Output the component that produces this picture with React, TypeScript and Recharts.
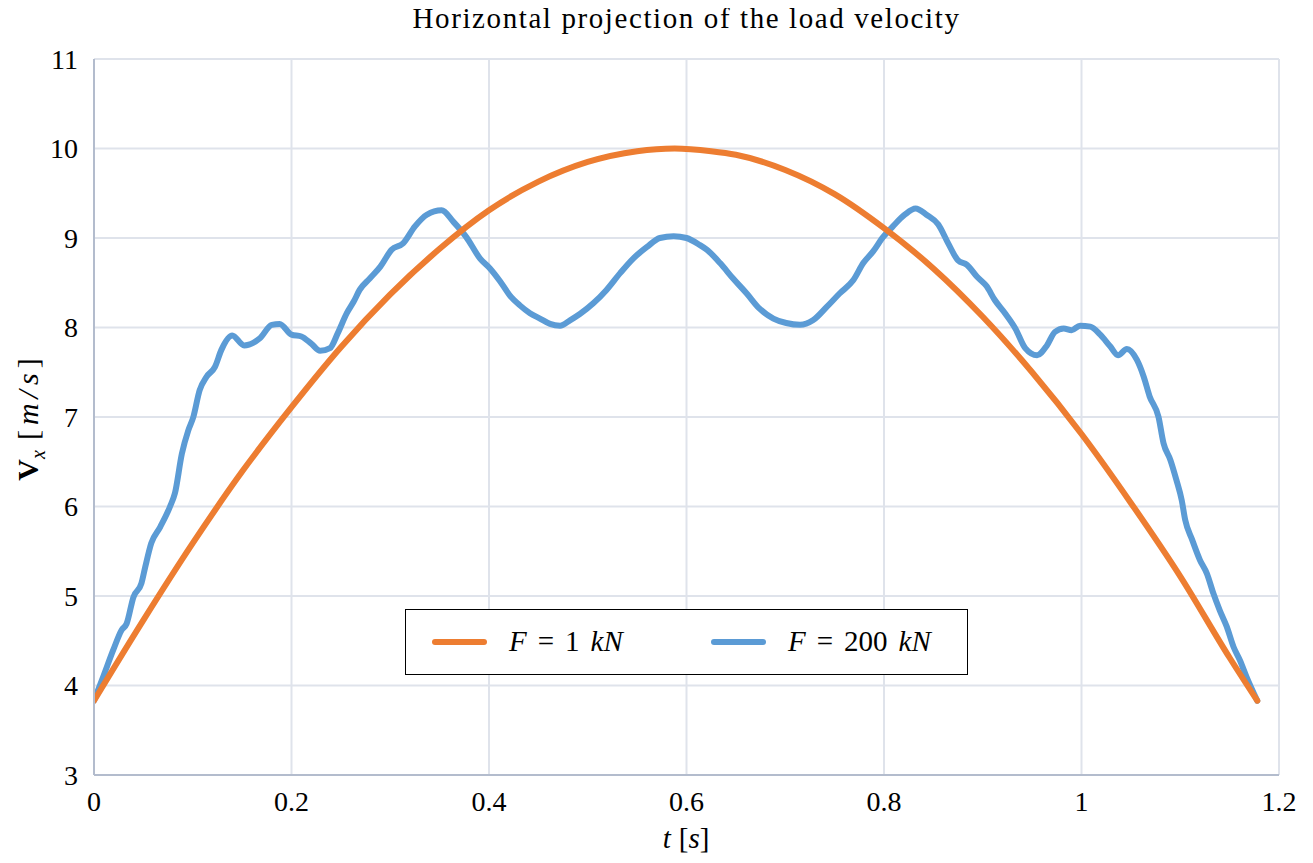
import type { ReactNode } from 'react';
import { CartesianGrid, Legend, Line, LineChart, XAxis, YAxis } from 'recharts';

// F = 1 kN (smooth)
const orangeT = [
  0, 0.05, 0.1, 0.15, 0.2, 0.25, 0.3, 0.35, 0.4, 0.45, 0.5, 0.55, 0.588, 0.625, 0.65, 0.7, 0.75,
  0.8, 0.85, 0.9, 0.95, 1.0, 1.05, 1.1, 1.15, 1.178,
];
const orangeV = [
  3.83, 4.73, 5.59, 6.39, 7.11, 7.78, 8.37, 8.88, 9.31, 9.63, 9.85, 9.97, 10.0, 9.97, 9.93, 9.76,
  9.49, 9.11, 8.66, 8.12, 7.5, 6.81, 6.04, 5.22, 4.31, 3.83,
];

// F = 200 kN (oscillating)
const blueT = [
  0, 0.0094, 0.0196, 0.028, 0.033, 0.04, 0.048, 0.052, 0.058, 0.067, 0.077, 0.082, 0.089, 0.0955,
  0.1006, 0.107, 0.114, 0.1225, 0.129, 0.14, 0.152, 0.168, 0.18, 0.188, 0.2, 0.21, 0.22, 0.229,
  0.239, 0.247, 0.256, 0.263, 0.269, 0.2795, 0.29, 0.3015, 0.313, 0.325, 0.337, 0.352, 0.364,
  0.377, 0.391, 0.401, 0.411, 0.421, 0.431, 0.4415, 0.4516, 0.4618, 0.472, 0.482, 0.492, 0.5056,
  0.519, 0.533, 0.546, 0.56, 0.573, 0.587, 0.6, 0.6137, 0.6205, 0.634, 0.647, 0.661, 0.674, 0.688,
  0.701, 0.715, 0.728, 0.742, 0.755, 0.769, 0.779, 0.789, 0.799, 0.809, 0.821, 0.832, 0.843, 0.855,
  0.865, 0.875, 0.884, 0.894, 0.904, 0.912, 0.9225, 0.933, 0.943, 0.955, 0.965, 0.973, 0.982, 0.99,
  0.9985, 1.009, 1.019, 1.029, 1.037, 1.046, 1.056, 1.063, 1.069, 1.078, 1.083, 1.09, 1.096,
  1.1015, 1.105, 1.112, 1.12, 1.127, 1.1335, 1.14, 1.147, 1.154, 1.1605, 1.167, 1.178,
];
const blueV = [
  3.83, 4.1, 4.4, 4.62, 4.69, 4.99, 5.14, 5.33, 5.59, 5.77, 6.0, 6.15, 6.59, 6.85, 7.0, 7.3, 7.45,
  7.56, 7.75, 7.91, 7.8, 7.88, 8.03, 8.04, 7.92, 7.9, 7.82, 7.74, 7.77, 7.94, 8.16, 8.29, 8.42,
  8.55, 8.68, 8.87, 8.94, 9.13, 9.26, 9.31, 9.18, 9.01, 8.77, 8.66, 8.52, 8.36, 8.25, 8.16, 8.1,
  8.04, 8.02, 8.08, 8.15, 8.27, 8.42, 8.61, 8.77, 8.9, 9.0, 9.02, 9.0, 8.92, 8.87, 8.72, 8.55,
  8.38, 8.21, 8.1, 8.05, 8.03, 8.08, 8.23, 8.38, 8.53, 8.72, 8.85, 9.01, 9.13, 9.26, 9.33, 9.26,
  9.15, 8.94, 8.75, 8.7, 8.57, 8.46, 8.31, 8.16, 7.99, 7.77, 7.69, 7.8, 7.95, 7.99, 7.97, 8.02,
  8.01, 7.92, 7.79, 7.69, 7.76, 7.64, 7.45, 7.23, 7.0, 6.71, 6.52, 6.3, 6.07, 5.85, 5.63, 5.4,
  5.25, 5.03, 4.84, 4.66, 4.43, 4.28, 4.1, 3.83,
];

const xTicks = [0, 0.2, 0.4, 0.6, 0.8, 1, 1.2];
const yTicks = [3, 4, 5, 6, 7, 8, 9, 10, 11];

const seriesNames = ['F = 1 kN', 'F = 200 kN'];

const orangeData = orangeT.map((t, i) => ({ t, v: orangeV[i] }));
const blueData = blueT.map((t, i) => ({ t, v: blueV[i] }));

const FONT = '"Liberation Serif", "DejaVu Serif", serif';
const ORANGE = '#ed7d31';
const BLUE = '#5b9bd5';
const W = 1297;
const H = 847;

// "F = 1 kN" -> italic variables, upright numbers and "="
function MathLabel({ text }: { text: string }): ReactNode {
  const parts = text.split(' ');
  return (
    <span style={{ whiteSpace: 'nowrap' }}>
      {parts.map((p, i) => (
        <span key={i} style={{ marginRight: i < parts.length - 1 ? 11 : 0 }}>
          {/[A-Za-z]/.test(p) ? <i>{p}</i> : p}
        </span>
      ))}
    </span>
  );
}

interface LegendEntry {
  value: string;
  color: string;
}

const legendItemLeft = [26, 305];

function LegendBox({ payload }: { payload?: readonly LegendEntry[] }): ReactNode {
  if (!payload) return null;
  const items = seriesNames
    .map((n) => payload.find((p) => p.value === n))
    .filter((p): p is LegendEntry => Boolean(p));
  return (
    <div
      style={{
        position: 'relative',
        boxSizing: 'border-box',
        width: 563,
        height: 66,
        border: '1.5px solid #000',
        background: '#fff',
        fontFamily: FONT,
        fontSize: 29,
        color: '#000',
      }}
    >
      {items.map((e, i) => (
        <div
          key={e.value}
          style={{
            position: 'absolute',
            left: legendItemLeft[i],
            top: 0,
            height: 63,
            display: 'flex',
            alignItems: 'center',
          }}
        >
          <span
            style={{
              display: 'inline-block',
              width: 55,
              height: 6,
              borderRadius: 3,
              background: e.color,
              marginRight: 22,
            }}
          />
          <MathLabel text={e.value} />
        </div>
      ))}
    </div>
  );
}

export default function App(): ReactNode {
  return (
    <div style={{ position: 'relative', width: W, height: H, fontFamily: FONT, color: '#000' }}>
      <div
        style={{
          position: 'absolute',
          left: 86,
          width: 1185,
          top: -6,
          textAlign: 'center',
          fontSize: 29,
          letterSpacing: 1.6,
          whiteSpace: 'nowrap',
        }}
      >
        Horizontal projection of the load velocity
      </div>

      <LineChart width={W} height={H} margin={{ top: 51, right: 26, bottom: 40, left: 10 }}>
        <CartesianGrid stroke="#dfe3eb" strokeWidth={2} />
        <XAxis
          type="number"
          dataKey="t"
          domain={[0, 1.2]}
          ticks={xTicks}
          height={40}
          tickSize={0}
          tickMargin={16}
          stroke="#b3bccd"
          strokeWidth={2}
          tick={{ fill: '#000', fontSize: 28, fontFamily: FONT }}
          allowDataOverflow
        />
        <YAxis
          type="number"
          domain={[3, 11]}
          ticks={yTicks}
          width={76}
          tickSize={0}
          tickMargin={16}
          stroke="#b3bccd"
          strokeWidth={2}
          tick={{ fill: '#000', fontSize: 28, fontFamily: FONT }}
          allowDataOverflow
        />
        <Legend
          layout="horizontal"
          align="center"
          verticalAlign="middle"
          wrapperStyle={{ left: 397, top: 601, width: 563, height: 66 }}
          content={(props) => <LegendBox payload={props.payload as LegendEntry[] | undefined} />}
        />
        <Line
          data={blueData}
          dataKey="v"
          name={seriesNames[1]}
          type="monotone"
          stroke={BLUE}
          strokeWidth={6}
          strokeLinejoin="round"
          strokeLinecap="round"
          dot={false}
          isAnimationActive={false}
        />
        <Line
          data={orangeData}
          dataKey="v"
          name={seriesNames[0]}
          type="monotone"
          stroke={ORANGE}
          strokeWidth={6}
          strokeLinecap="round"
          dot={false}
          isAnimationActive={false}
        />
      </LineChart>

      <div
        style={{
          position: 'absolute',
          left: 22,
          top: 409,
          transform: 'translate(-50%, -50%) rotate(-90deg)',
          whiteSpace: 'nowrap',
          fontSize: 30,
        }}
      >
        <b>V</b>
        <sub style={{ fontSize: 20 }}>
          <i>x</i>
        </sub>
        <span style={{ marginLeft: 10, letterSpacing: 5 }}>
          [<i>m</i>
          <i>/</i>
          <i>s</i>]
        </span>
      </div>

      <div
        style={{
          position: 'absolute',
          left: 678,
          top: 830,
          transform: 'translate(-50%, -50%)',
          whiteSpace: 'nowrap',
          fontSize: 29,
        }}
      >
        <i>t</i>
        <span style={{ marginLeft: 8 }}>
          [<i>s</i>]
        </span>
      </div>
    </div>
  );
}
